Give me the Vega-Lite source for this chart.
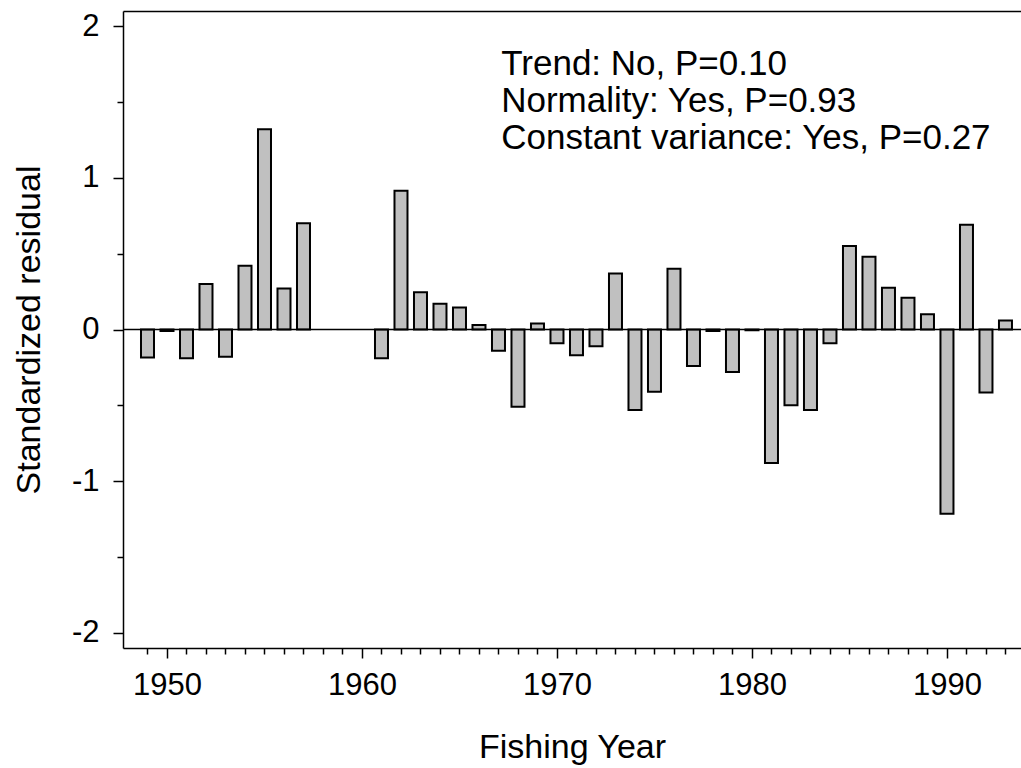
{
  "$schema": "https://vega.github.io/schema/vega-lite/v6.json",
  "width": 898,
  "height": 637,
  "autosize": {"type": "none"},
  "padding": {"left": 123, "top": 11, "right": 0, "bottom": 120},
  "background": "white",
  "config": {
    "view": {"stroke": null},
    "font": "Liberation Sans",
    "axis": {
      "domainColor": "black",
      "domainWidth": 1.5,
      "tickColor": "black",
      "tickWidth": 1.5,
      "grid": false,
      "labelColor": "black",
      "titleColor": "black",
      "labelFont": "Liberation Sans",
      "titleFont": "Liberation Sans",
      "titleFontWeight": "normal",
      "labelOverlap": false,
      "labelFlush": false,
      "labelBound": false
    }
  },
  "data": {
    "values": [
      {"year": 1949, "residual": -0.185},
      {"year": 1950, "residual": -0.01},
      {"year": 1951, "residual": -0.19},
      {"year": 1952, "residual": 0.30},
      {"year": 1953, "residual": -0.18},
      {"year": 1954, "residual": 0.42},
      {"year": 1955, "residual": 1.32},
      {"year": 1956, "residual": 0.27},
      {"year": 1957, "residual": 0.70},
      {"year": 1961, "residual": -0.19},
      {"year": 1962, "residual": 0.915},
      {"year": 1963, "residual": 0.245},
      {"year": 1964, "residual": 0.17},
      {"year": 1965, "residual": 0.145},
      {"year": 1966, "residual": 0.03},
      {"year": 1967, "residual": -0.14},
      {"year": 1968, "residual": -0.51},
      {"year": 1969, "residual": 0.04},
      {"year": 1970, "residual": -0.09},
      {"year": 1971, "residual": -0.17},
      {"year": 1972, "residual": -0.11},
      {"year": 1973, "residual": 0.37},
      {"year": 1974, "residual": -0.53},
      {"year": 1975, "residual": -0.41},
      {"year": 1976, "residual": 0.40},
      {"year": 1977, "residual": -0.24},
      {"year": 1978, "residual": -0.01},
      {"year": 1979, "residual": -0.28},
      {"year": 1980, "residual": -0.005},
      {"year": 1981, "residual": -0.88},
      {"year": 1982, "residual": -0.50},
      {"year": 1983, "residual": -0.53},
      {"year": 1984, "residual": -0.09},
      {"year": 1985, "residual": 0.55},
      {"year": 1986, "residual": 0.48},
      {"year": 1987, "residual": 0.275},
      {"year": 1988, "residual": 0.21},
      {"year": 1989, "residual": 0.10},
      {"year": 1990, "residual": -1.215},
      {"year": 1991, "residual": 0.69},
      {"year": 1992, "residual": -0.415},
      {"year": 1993, "residual": 0.06}
    ]
  },
  "layer": [
    {
      "mark": {"type": "bar", "orient": "vertical", "width": 13, "fill": "#c0c0c0", "stroke": "black", "strokeWidth": 2},
      "encoding": {
        "x": {
          "field": "year",
          "type": "quantitative",
          "scale": {"domain": [1948, 1993.54], "nice": false, "zero": false},
          "axis": {
            "orient": "bottom",
            "title": "Fishing Year",
            "titleFontSize": 34,
            "titlePadding": 30,
            "values": [1949, 1950, 1951, 1952, 1953, 1954, 1955, 1956, 1957, 1958, 1959, 1960, 1961, 1962, 1963, 1964, 1965, 1966, 1967, 1968, 1969, 1970, 1971, 1972, 1973, 1974, 1975, 1976, 1977, 1978, 1979, 1980, 1981, 1982, 1983, 1984, 1985, 1986, 1987, 1988, 1989, 1990, 1991, 1992, 1993],
            "labelExpr": "datum.value % 10 === 0 ? toString(datum.value) : ''",
            "labelFontSize": 31,
            "labelPadding": 12,
            "tickSize": {"condition": {"test": "datum.value % 10 === 0", "value": 10}, "value": 6}
          }
        },
        "y": {
          "field": "residual",
          "type": "quantitative",
          "scale": {"domain": [-2.1, 2.1], "nice": false, "zero": false},
          "axis": {
            "title": "Standardized residual",
            "titleFontSize": 34,
            "titlePadding": 25,
            "values": [-2, -1.75, -1.5, -1.25, -1, -0.75, -0.5, -0.25, 0, 0.25, 0.5, 0.75, 1, 1.25, 1.5, 1.75, 2],
            "labelExpr": "datum.value % 1 === 0 ? toString(datum.value) : ''",
            "labelFontSize": 31,
            "labelPadding": 14,
            "tickSize": {"condition": {"test": "datum.value % 1 === 0", "value": 10}, "value": 6}
          }
        },
        "y2": {"datum": 0}
      }
    },
    {
      "data": {"values": [{"level": 0}]},
      "mark": {"type": "rule", "color": "black", "strokeWidth": 1.5},
      "encoding": {
        "y": {"datum": 0, "type": "quantitative"}
      }
    },
    {
      "data": {"values": [{"note": "stats"}]},
      "mark": {
        "type": "text",
        "text": ["Trend: No, P=0.10", "Normality: Yes, P=0.93", "Constant variance: Yes, P=0.27"],
        "align": "left",
        "baseline": "alphabetic",
        "font": "Liberation Sans",
        "fontSize": 35,
        "lineHeight": 37,
        "color": "black"
      },
      "encoding": {
        "x": {
          "datum": 1967.14,
          "type": "quantitative",
          "axis": {"orient": "top", "labels": false, "ticks": false, "title": null, "domainWidth": 1.5}
        },
        "y": {"datum": 1.68, "type": "quantitative"}
      }
    }
  ],
  "resolve": {"axis": {"x": "independent"}}
}
